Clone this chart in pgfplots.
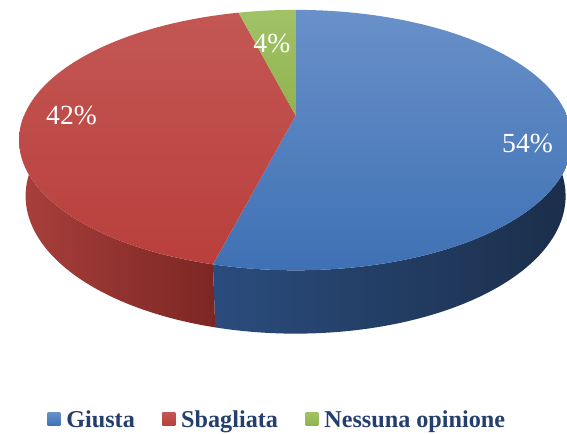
\documentclass[border=0pt]{standalone}
\usepackage{pgfplots}
\pgfplotsset{compat=1.18}
\usepackage{pgfplotstable}
\usepackage{fontspec}
\setmainfont{Liberation Serif}

\definecolor{blueTopA}{HTML}{6990C9}
\definecolor{blueTopB}{HTML}{3E71B4}
\definecolor{blueSideA}{HTML}{2A4C7D}
\definecolor{blueSideB}{HTML}{1B2E4A}
\definecolor{redTopA}{HTML}{C35754}
\definecolor{redTopB}{HTML}{B93F3C}
\definecolor{redSideA}{HTML}{A8403C}
\definecolor{redSideB}{HTML}{7C2623}
\definecolor{greenTopA}{HTML}{A2C266}
\definecolor{greenTopB}{HTML}{90B34E}
\definecolor{legText}{HTML}{243F6E}

\pgfplotstableread{
label value
Giusta 54
Sbagliata 42
Nessuna 4
}\piedata

\begin{document}
\pgfplotstablegetelem{0}{value}\of\piedata \let\vA\pgfplotsretval
\pgfplotstablegetelem{1}{value}\of\piedata \let\vB\pgfplotsretval
\pgfplotstablegetelem{2}{value}\of\piedata \let\vC\pgfplotsretval
\pgfmathsetmacro\tA{3.6*\vA}
\pgfmathsetmacro\tB{3.6*(\vA+\vB)}
\pgfmathsetmacro\tC{3.6*(\vA+\vB+\vC)}
\begin{tikzpicture}
\begin{axis}[
  name=pie,
  width=567pt, height=439pt, scale only axis,
  xmin=0, xmax=567, ymin=0, ymax=439, y dir=reverse,
  hide axis,
  axis background/.style={fill=white},
  declare function={
    xt(\a)=292+1290*sin(\a)/(4.69+0.887*cos(\a));
    yt(\a)=117-1290*0.4626*cos(\a)/(4.69+0.887*cos(\a));
    xb(\a)=292+1290*sin(\a)/(4.798+0.887*cos(\a));
    yb(\a)=117-1290*(0.4626*cos(\a)-0.2076)/(4.798+0.887*cos(\a));
    ta(\k,\p,\q)=\p+(\q-\p)*\k/60;
    tb(\k,\p,\q)=\q-(\q-\p)*(\k-61)/60;
  },
  legend columns=3,
  legend cell align=left,
  legend style={at={(axis cs:273.5,425)}, anchor=center, draw=none, fill=none,
    font=\bfseries\fontsize{24.5}{26}\selectfont\color{legText},
    /tikz/every odd column/.append style={column sep=4pt},
    /tikz/every even column/.append style={column sep=26pt}},
  legend image code/.code={\path[#1,draw=none] (0pt,-6pt) rectangle (13pt,7pt);},
]
\addplot[forget plot, draw=none, left color=blueSideA, right color=blueSideB,
  domain=0:121, samples=122, variable=\k]
  ({\k<60.5 ? xt(ta(\k,90,\tA)) : xb(tb(\k,90,\tA))},
   {\k<60.5 ? yt(ta(\k,90,\tA)) : yb(tb(\k,90,\tA))}) -- cycle;
\addplot[forget plot, draw=none, left color=redSideA, right color=redSideB,
  domain=0:121, samples=122, variable=\k]
  ({\k<60.5 ? xt(ta(\k,\tA,270)) : xb(tb(\k,\tA,270))},
   {\k<60.5 ? yt(ta(\k,\tA,270)) : yb(tb(\k,\tA,270))}) -- cycle;
\addplot[draw=none, top color=blueTopA, bottom color=blueTopB,
  domain=0:\tA, samples=90, variable=\u]
  ({xt(\u)},{yt(\u)}) -- (axis cs:292,117) -- cycle;
\addlegendentry{Giusta}
\addplot[draw=none, top color=redTopA, bottom color=redTopB,
  domain=\tA:\tB, samples=70, variable=\u]
  ({xt(\u)},{yt(\u)}) -- (axis cs:292,117) -- cycle;
\addlegendentry{Sbagliata}
\addplot[draw=none, top color=greenTopA, bottom color=greenTopB,
  domain=\tB:\tC, samples=12, variable=\u]
  ({xt(\u)},{yt(\u)}) -- (axis cs:292,117) -- cycle;
\addlegendentry{Nessuna opinione}
\node[text=white, font=\fontsize{28}{30}\selectfont] at (axis cs:527,145) {54\%};
\node[text=white, font=\fontsize{28}{30}\selectfont] at (axis cs:65,117) {42\%};
\node[text=white, font=\fontsize{28}{30}\selectfont] at (axis cs:268,44) {4\%};
\end{axis}
\pgfresetboundingbox
\path[use as bounding box] (pie.south west) rectangle (pie.north east);
\end{tikzpicture}
\end{document}
